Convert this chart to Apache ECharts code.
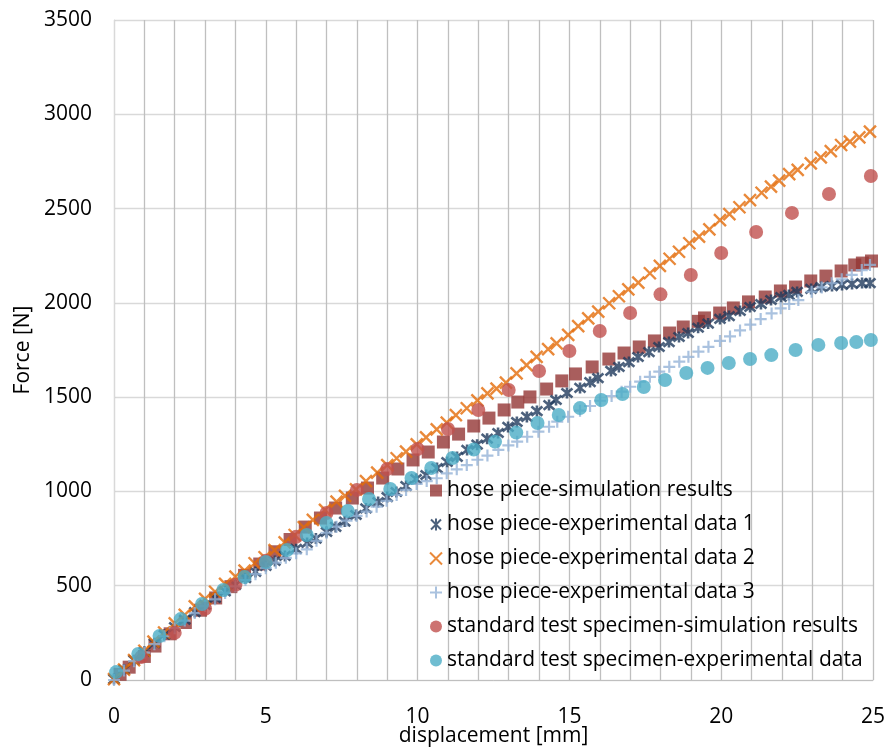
<!DOCTYPE html>
<html>
<head>
<meta charset="utf-8">
<script src="https://cdn.jsdelivr.net/npm/echarts@6/dist/echarts.min.js"></script>
<style>
  html, body { margin: 0; padding: 0; background: #fff; }
  #chart { width: 894px; height: 751px; }
</style>
</head>
<body>
<div id="chart"></div>
<script>
// Force–displacement measurements and simulations (displacement in mm, force in N)

const seriesNames = [
  'hose piece-simulation results',
  'hose piece-experimental data 1',
  'hose piece-experimental data 2',
  'hose piece-experimental data 3',
  'standard test specimen-simulation results',
  'standard test specimen-experimental data'
];

// hose piece - simulation
const hoseSimX = [0.2, 0.5, 1.0, 1.35, 1.85, 2.35, 2.85, 3.35, 3.85, 4.3, 4.8, 5.3, 5.8, 6.3, 6.8, 7.3, 7.85, 8.35, 8.85, 9.35, 9.85, 10.35, 10.85, 11.35, 11.85, 12.35, 12.85, 13.3, 13.7, 14.25, 14.75, 15.2, 15.75, 16.3, 16.8, 17.3, 17.8, 18.3, 18.75, 19.25, 19.45, 19.95, 20.4, 20.9, 21.45, 21.95, 22.45, 22.95, 23.45, 23.95, 24.4, 24.65, 24.95];
const hoseSimF = [30, 68, 125, 180, 245, 305, 370, 435, 495, 555, 615, 680, 745, 811, 859, 912, 965, 1018, 1071, 1119, 1167, 1209, 1262, 1304, 1347, 1389, 1432, 1474, 1501, 1543, 1586, 1623, 1660, 1702, 1734, 1766, 1798, 1840, 1872, 1902, 1920, 1946, 1973, 2005, 2031, 2063, 2084, 2116, 2142, 2169, 2201, 2211, 2222];

// hose piece - experiment 1
const hoseExp1X = [0.0, 0.33, 0.66, 1.0, 1.33, 1.66, 2.0, 2.33, 2.66, 3.0, 3.33, 3.66, 4.0, 4.33, 4.66, 5.0, 5.3, 5.63, 6.0, 6.36, 6.65, 7.0, 7.3, 7.6, 7.97, 8.3, 8.7, 9.0, 9.3, 9.62, 9.95, 10.28, 10.64, 10.97, 11.3, 11.63, 11.96, 12.29, 12.65, 12.98, 13.27, 13.6, 13.93, 14.33, 14.56, 14.92, 15.35, 15.68, 15.94, 16.37, 16.63, 16.96, 17.26, 17.62, 17.95, 18.28, 18.61, 18.91, 19.24, 19.57, 19.96, 20.26, 20.62, 20.95, 21.31, 21.64, 21.97, 22.23, 22.5, 22.96, 23.29, 23.65, 23.98, 24.31, 24.64, 24.9];
const hoseExp1F = [5, 55, 105, 150, 195, 240, 281, 320, 360, 398, 435, 470, 504, 540, 573, 605, 631, 658, 695, 727, 750, 785, 812, 840, 875, 910, 944, 970, 997, 1029, 1066, 1087, 1124, 1156, 1183, 1220, 1248, 1280, 1310, 1342, 1368, 1395, 1426, 1458, 1485, 1522, 1549, 1580, 1601, 1639, 1660, 1686, 1713, 1739, 1766, 1792, 1819, 1840, 1868, 1890, 1915, 1930, 1957, 1978, 1994, 2015, 2031, 2042, 2058, 2074, 2084, 2089, 2095, 2100, 2105, 2105];

// hose piece - experiment 2
const hoseExp2X = [0.0, 0.33, 0.66, 1.0, 1.3, 1.65, 2.0, 2.33, 2.66, 3.0, 3.33, 3.66, 4.0, 4.3, 4.63, 4.96, 5.29, 5.62, 5.95, 6.25, 6.55, 6.95, 7.33, 7.61, 7.97, 8.3, 8.67, 9.0, 9.31, 9.62, 9.97, 10.28, 10.63, 10.96, 11.26, 11.62, 11.97, 12.3, 12.6, 12.91, 13.26, 13.59, 13.92, 14.3, 14.58, 14.96, 15.29, 15.62, 15.95, 16.31, 16.63, 16.94, 17.27, 17.65, 17.98, 18.3, 18.61, 18.95, 19.27, 19.61, 19.96, 20.27, 20.6, 20.95, 21.33, 21.64, 21.91, 22.24, 22.52, 22.95, 23.28, 23.61, 23.95, 24.24, 24.55, 24.9];
const hoseExp2F = [5, 55, 105, 155, 203, 252, 300, 345, 390, 430, 468, 510, 548, 580, 619, 651, 689, 730, 769, 810, 849, 902, 946, 976, 1011, 1055, 1100, 1140, 1176, 1211, 1250, 1287, 1329, 1365, 1405, 1441, 1483, 1520, 1545, 1577, 1626, 1670, 1714, 1755, 1785, 1830, 1877, 1918, 1953, 1998, 2035, 2072, 2107, 2157, 2196, 2234, 2271, 2316, 2351, 2390, 2439, 2471, 2507, 2545, 2584, 2616, 2648, 2683, 2705, 2740, 2772, 2805, 2837, 2855, 2878, 2908];

// hose piece - experiment 3
const hoseExp3X = [0.0, 0.33, 0.66, 1.0, 1.33, 1.66, 2.0, 2.33, 2.66, 3.0, 3.33, 3.66, 4.0, 4.33, 4.66, 5.0, 5.33, 5.66, 6.0, 6.35, 6.67, 7.0, 7.33, 7.66, 7.99, 8.32, 8.65, 8.98, 9.31, 9.62, 9.97, 10.3, 10.63, 10.96, 11.29, 11.62, 11.97, 12.3, 12.66, 12.99, 13.28, 13.61, 13.98, 14.33, 14.6, 14.96, 15.35, 15.68, 16.01, 16.39, 16.72, 17.0, 17.33, 17.65, 17.96, 18.29, 18.62, 18.92, 19.25, 19.58, 19.96, 20.29, 20.62, 20.96, 21.3, 21.66, 21.96, 22.24, 22.54, 22.98, 23.31, 23.64, 23.97, 24.3, 24.63, 24.9];
const hoseExp3F = [0, 50, 100, 145, 190, 232, 275, 315, 355, 392, 428, 462, 497, 530, 561, 593, 622, 648, 672, 693, 738, 781, 813, 845, 870, 893, 919, 950, 981, 1008, 1040, 1055, 1070, 1096, 1117, 1140, 1168, 1190, 1220, 1244, 1264, 1290, 1317, 1343, 1370, 1396, 1428, 1453, 1481, 1506, 1529, 1555, 1582, 1608, 1635, 1661, 1688, 1714, 1741, 1767, 1798, 1822, 1854, 1885, 1914, 1944, 1971, 1994, 2015, 2059, 2082, 2104, 2125, 2148, 2174, 2201];

// standard test specimen - simulation
const stdSimX = [0.9, 2, 3, 4, 5, 6, 7, 8, 9, 10, 11, 12, 13, 14, 15, 16, 17, 18, 19, 20, 21.15, 22.33, 23.55, 24.93];
const stdSimF = [122, 250, 378, 505, 632, 760, 886, 1008, 1119, 1225, 1331, 1432, 1538, 1639, 1745, 1851, 1946, 2045, 2148, 2264, 2376, 2477, 2577, 2673];

// standard test specimen - experiment
const stdExpX = [0.07, 0.8, 1.5, 2.2, 2.9, 3.6, 4.3, 5.0, 5.7, 6.35, 7.0, 7.7, 8.4, 9.1, 9.8, 10.45, 11.15, 11.85, 12.55, 13.25, 13.95, 14.65, 15.35, 16.05, 16.75, 17.45, 18.15, 18.85, 19.55, 20.25, 20.95, 21.65, 22.45, 23.2, 23.95, 24.45, 24.93];
const stdExpF = [42, 138, 233, 323, 403, 477, 546, 626, 689, 769, 833, 896, 960, 1013, 1071, 1124, 1177, 1222, 1264, 1312, 1363, 1405, 1442, 1485, 1517, 1554, 1591, 1628, 1655, 1681, 1702, 1723, 1750, 1777, 1787, 1792, 1803];

// axis ticks
const xTicks = [0, 5, 10, 15, 20, 25];
const yTicks = [0, 500, 1000, 1500, 2000, 2500, 3000, 3500];

const pairs = (xs, ys) => xs.map((x, i) => [x, ys[i]]);

const FONT = 'Open Sans';
const starPath = 'path://M0,0L10,10M10,0L0,10M5,-1L5,11';
const crossPath = 'path://M0,0L10,10M10,0L0,10';
const plusPath = 'path://M5,0L5,10M0,5L10,5';

const chart = echarts.init(document.getElementById('chart'), null, { renderer: 'canvas' });

chart.setOption({
  animation: false,
  backgroundColor: '#ffffff',
  textStyle: { fontFamily: FONT },
  grid: { left: 114, right: 21, top: 20, bottom: 71, containLabel: false, outerBoundsMode: 'none' },
  legend: {
    orient: 'vertical',
    left: 429,
    top: 480,
    itemWidth: 12,
    itemHeight: 12,
    itemGap: 13,
    padding: 0,
    data: seriesNames,
    textStyle: { fontFamily: FONT, fontSize: 21, color: '#000', lineHeight: 21 }
  },
  xAxis: {
    type: 'value',
    min: xTicks[0],
    max: xTicks[xTicks.length - 1],
    interval: xTicks[1] - xTicks[0],
    name: 'displacement [mm]',
    nameLocation: 'middle',
    nameGap: 46,
    nameMoveOverlap: false,
    nameTextStyle: { fontFamily: FONT, fontSize: 21, color: '#000' },
    axisLine: { show: true, lineStyle: { color: '#bfbfbf', width: 1 } },
    axisTick: { show: false },
    minorTick: { show: false, splitNumber: 5 },
    axisLabel: { fontFamily: FONT, fontSize: 21, color: '#000', margin: 27, formatter: v => String(v) },
    splitLine: { show: true, lineStyle: { color: '#bfbfbf', width: 1.3 } },
    minorSplitLine: { show: true, lineStyle: { color: '#bfbfbf', width: 1.3 } }
  },
  yAxis: {
    type: 'value',
    min: yTicks[0],
    max: yTicks[yTicks.length - 1],
    interval: yTicks[1] - yTicks[0],
    name: 'Force [N]',
    nameLocation: 'middle',
    nameGap: 80,
    nameMoveOverlap: false,
    nameTextStyle: { fontFamily: FONT, fontSize: 21, color: '#000' },
    axisLine: { show: true, lineStyle: { color: '#d9d9d9', width: 1 } },
    axisTick: { show: false },
    axisLabel: { fontFamily: FONT, fontSize: 21, color: '#000', margin: 22, formatter: v => String(v) },
    splitLine: { show: true, lineStyle: { color: '#d9d9d9', width: 1.3 } }
  },
  series: [
    {
      name: seriesNames[0], type: 'scatter',
      data: pairs(hoseSimX, hoseSimF),
      symbol: 'rect', symbolSize: 13,
      itemStyle: { color: '#943634' }
    },
    {
      name: seriesNames[1], type: 'scatter',
      data: pairs(hoseExp1X, hoseExp1F),
      symbol: starPath, symbolSize: 11,
      itemStyle: { color: 'rgba(0,0,0,0)', borderColor: '#1f3a5c', borderWidth: 2.6 }
    },
    {
      name: seriesNames[2], type: 'scatter',
      data: pairs(hoseExp2X, hoseExp2F),
      symbol: crossPath, symbolSize: 12,
      itemStyle: { color: 'rgba(0,0,0,0)', borderColor: '#e36c09', borderWidth: 2.4 }
    },
    {
      name: seriesNames[3], type: 'scatter',
      data: pairs(hoseExp3X, hoseExp3F),
      symbol: plusPath, symbolSize: 12,
      itemStyle: { color: 'rgba(0,0,0,0)', borderColor: '#95b3d7', borderWidth: 2.2 }
    },
    {
      name: seriesNames[4], type: 'scatter',
      data: pairs(stdSimX, stdSimF),
      symbol: 'circle', symbolSize: 14,
      itemStyle: { color: '#c0504d' }
    },
    {
      name: seriesNames[5], type: 'scatter',
      data: pairs(stdExpX, stdExpF),
      symbol: 'circle', symbolSize: 14,
      itemStyle: { color: '#4bacc6' }
    }
  ]
});
</script>
</body>
</html>
